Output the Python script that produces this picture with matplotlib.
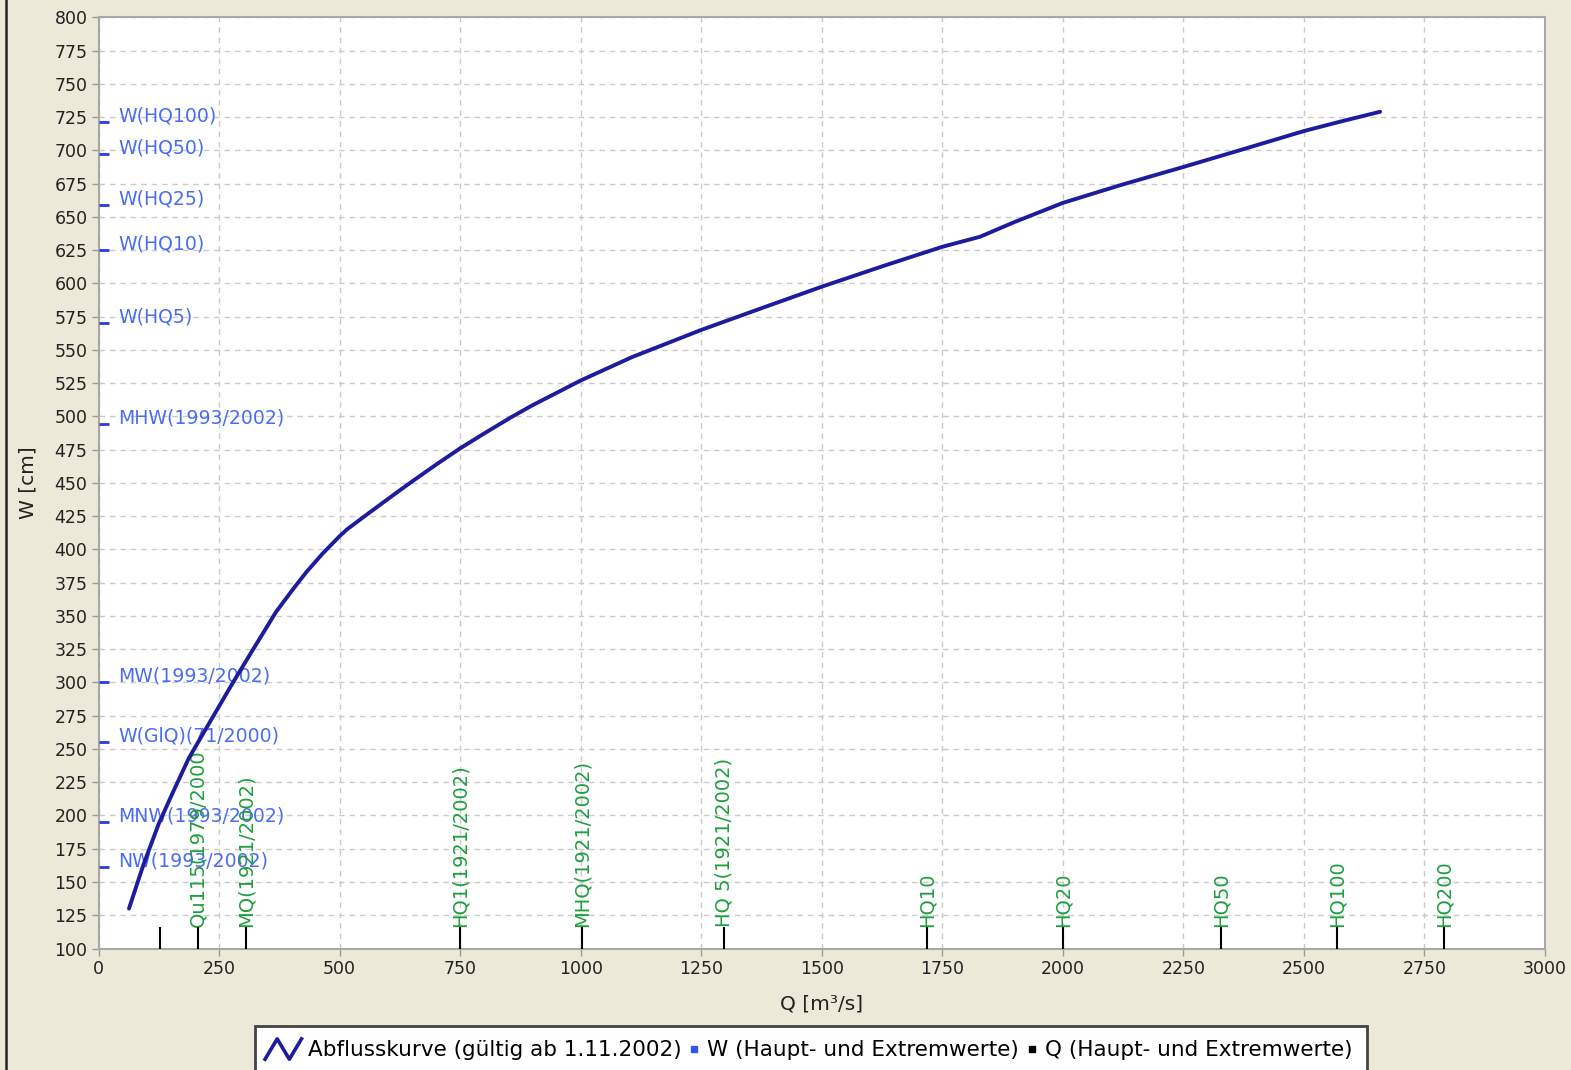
import matplotlib
matplotlib.use("Agg")
import matplotlib.pyplot as plt
from matplotlib.lines import Line2D
from matplotlib.legend_handler import HandlerBase

# ---- data ----
curve_q = [63, 93, 125, 153, 187, 236, 278, 319, 368, 403, 431, 465, 500, 515,
           563, 590, 625, 653, 701, 750, 799, 854, 898, 1000, 1106, 1250, 1384,
           1500, 1627, 1750, 1828, 1899, 2000, 2121, 2250, 2371, 2500, 2580, 2658]
curve_w = [130, 163, 194, 216.5, 243, 273.5, 299.5, 324, 353, 370, 383, 397, 410, 415,
           428, 435.2, 444.5, 451.8, 464, 476, 487, 499, 508, 527, 544.5, 565, 582.5,
           597.5, 613, 627.5, 635, 646, 660.5, 674, 687.5, 700.5, 714.5, 722, 729]

w_labels = ["W(HQ100)", "W(HQ50)", "W(HQ25)", "W(HQ10)", "W(HQ5)",
            "MHW(1993/2002)", "MW(1993/2002)", "W(GlQ)(71/2000)",
            "MNW(1993/2002)", "NW(1993/2002)"]
w_values = [721, 697, 659, 625, 570, 494, 300, 255, 195, 161]

q_labels = ["", "Qu115(1979/2000", "MQ(1921/2002)", "HQ1(1921/2002)",
            "MHQ(1921/2002)", "HQ 5(1921/2002)", "HQ10", "HQ20", "HQ50",
            "HQ100", "HQ200"]
q_values = [127, 206, 305, 750, 1002, 1298, 1719, 2001, 2328, 2569, 2790]

x_ticks = list(range(0, 3001, 250))
y_ticks = list(range(100, 801, 25))

BG = "#ECE9D8"
NAVY = "#1C1C9C"
BLUE_TXT = "#4A6CF2"
BLUE_TICK = "#2A3ADD"
GREEN = "#1E9E3E"

fig = plt.figure(figsize=(15.71, 10.70), dpi=100, facecolor=BG)
W_, H_ = 1571, 1070
ax = fig.add_axes([98.6 / W_, 1 - 948.5 / H_, (1545 - 98.6) / W_, (948.5 - 17.3) / H_])
ax.set_facecolor("white")
ax.set_xlim(0, 3000)
ax.set_ylim(100, 800)
ax.set_xticks(x_ticks)
ax.set_yticks(y_ticks)
ax.grid(True, color="#CACACA", linestyle=(0, (4, 3.5)), linewidth=1)
ax.set_axisbelow(True)
for s in ax.spines.values():
    s.set_color("#A8A8A8")
    s.set_linewidth(1.5)
ax.tick_params(axis="both", direction="out", length=5, width=1, color="#999999",
               labelsize=12.5, labelcolor="#222222", pad=3)
ax.set_xlabel("Q [m³/s]", fontsize=14.5, color="#222222", labelpad=12)
ax.set_ylabel("W [cm]", fontsize=14.5, color="#222222", labelpad=12)

# rating curve
ax.plot(curve_q, curve_w, color=NAVY, linewidth=2.8, solid_capstyle="round",
        solid_joinstyle="round", zorder=5)

# W markers (short blue dashes at the y-axis) and labels
ax.hlines(w_values, 0, 21, colors=BLUE_TICK, linewidth=2, zorder=4, clip_on=False)
for lab, w in zip(w_labels, w_values):
    ax.annotate(lab, xy=(0, w), xytext=(14, 4.5), textcoords="offset points",
                ha="left", va="center", fontsize=13.6, color=BLUE_TXT, zorder=3)

# Q markers (short black ticks at the x-axis) and rotated labels
ax.vlines(q_values, 100, 116, colors="black", linewidth=1.5, zorder=4)
for lab, q in zip(q_labels, q_values):
    if lab:
        ax.text(q, 116, lab, rotation=90, ha="center", va="bottom",
                fontsize=14, color=GREEN, zorder=3)

# left dark border line of the window
fig.add_artist(Line2D([5.5 / W_, 5.5 / W_], [0, 1], transform=fig.transFigure,
                      color="#222222", linewidth=1.8))


class ZigzagHandler(HandlerBase):
    def create_artists(self, legend, orig_handle, xdescent, ydescent, width,
                       height, fontsize, trans):
        x0 = -xdescent - 3
        w = width + 3
        y0 = -ydescent - height * 0.2
        h = height * 1.35
        line = Line2D([x0, x0 + w / 3, x0 + 2 * w / 3, x0 + w],
                      [y0, y0 + h, y0, y0 + h], color=NAVY, linewidth=2.6,
                      transform=trans)
        return [line]


class RightMarkerHandler(HandlerBase):
    def create_artists(self, legend, orig_handle, xdescent, ydescent, width,
                       height, fontsize, trans):
        m = Line2D([-xdescent + width - 5], [-ydescent + height / 2],
                   marker="s", markersize=4, linestyle="none",
                   color=orig_handle.get_color(), transform=trans)
        return [m]


h_curve = Line2D([], [], color=NAVY)
h_w = Line2D([], [], color="#3355EE")
h_q = Line2D([], [], color="black")
leg = fig.legend([h_curve, h_w, h_q],
                 ["Abflusskurve (gültig ab 1.11.2002)",
                  "W (Haupt- und Extremwerte)",
                  "Q (Haupt- und Extremwerte)"],
                 handler_map={h_curve: ZigzagHandler(), h_w: RightMarkerHandler(),
                              h_q: RightMarkerHandler()},
                 loc="upper left", bbox_to_anchor=(255 / W_, 1 - 1026 / H_),
                 ncol=3, frameon=True, fancybox=False, fontsize=15.5,
                 handlelength=1.5, handletextpad=0.3, columnspacing=-0.6,
                 borderpad=0.66, borderaxespad=0)
fr = leg.get_frame()
fr.set_edgecolor("#444444")
fr.set_linewidth(2)
fr.set_facecolor("white")
fr.set_alpha(1)

fig.savefig("out.png", dpi=100, facecolor=BG)
